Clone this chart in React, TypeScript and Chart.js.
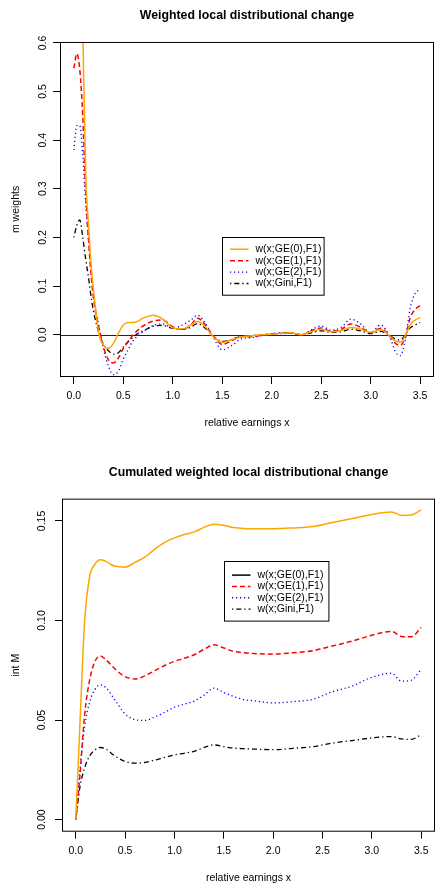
import React, { useEffect, useRef } from "react";
import { Chart, registerables } from "chart.js";

Chart.register(...registerables);

// ---------- Data: weighted local distributional change ----------
const xWeights = [0, 0.03, 0.06, 0.09, 0.12, 0.15, 0.18, 0.21, 0.25, 0.3, 0.35, 0.4, 0.45, 0.5, 0.55, 0.6, 0.65, 0.7, 0.8, 0.9, 1.0, 1.1, 1.18, 1.25, 1.33, 1.4, 1.5, 1.6, 1.7, 1.8, 1.9, 2.0, 2.1, 2.2, 2.3, 2.4, 2.5, 2.6, 2.7, 2.8, 2.9, 3.0, 3.1, 3.2, 3.25, 3.3, 3.35, 3.4, 3.45, 3.5];
const ge0Weights = [1.05, 1.0, 0.85, 0.63, 0.33, 0.22, 0.13, 0.07, 0.005, -0.022, -0.028, -0.018, 0.003, 0.02, 0.025, 0.025, 0.028, 0.034, 0.04, 0.032, 0.014, 0.012, 0.02, 0.027, 0.016, -0.002, -0.016, -0.01, -0.004, -0.002, 0.0, 0.001, 0.003, 0.004, 0.0, 0.006, 0.011, 0.006, 0.008, 0.015, 0.011, 0.005, 0.01, -0.004, -0.013, -0.015, -0.002, 0.02, 0.03, 0.035];
const ge1Weights = [0.548, 0.578, 0.545, 0.45, 0.29, 0.19, 0.11, 0.058, 0.018, -0.025, -0.052, -0.058, -0.048, -0.028, -0.014, 0.0, 0.01, 0.018, 0.028, 0.03, 0.016, 0.011, 0.02, 0.034, 0.02, 0.0, -0.02, -0.012, -0.004, -0.004, -0.001, 0.001, 0.003, 0.003, 0.0, 0.008, 0.014, 0.007, 0.011, 0.022, 0.015, 0.004, 0.013, -0.005, -0.018, -0.022, -0.005, 0.035, 0.052, 0.06];
const ge2Weights = [0.38, 0.43, 0.43, 0.37, 0.27, 0.19, 0.115, 0.065, 0.02, -0.03, -0.065, -0.082, -0.075, -0.05, -0.03, -0.012, -0.002, 0.006, 0.019, 0.022, 0.013, 0.02, 0.03, 0.04, 0.023, -0.002, -0.031, -0.022, -0.008, -0.006, -0.002, 0.001, 0.002, 0.003, 0.0, 0.01, 0.018, 0.009, 0.015, 0.032, 0.022, 0.004, 0.02, -0.008, -0.035, -0.043, -0.01, 0.055, 0.085, 0.093];
const giniWeights = [0.2, 0.225, 0.236, 0.2, 0.155, 0.115, 0.07, 0.037, 0.006, -0.02, -0.033, -0.04, -0.037, -0.025, -0.014, -0.005, 0.003, 0.008, 0.017, 0.019, 0.013, 0.011, 0.015, 0.023, 0.013, -0.001, -0.014, -0.009, -0.003, -0.002, 0.0, 0.002, 0.004, 0.003, 0.0, 0.004, 0.008, 0.005, 0.006, 0.011, 0.008, 0.002, 0.007, -0.003, -0.009, -0.011, 0.0, 0.014, 0.02, 0.025];

// ---------- Data: cumulated weighted local distributional change ----------
const xCum = [0, 0.04, 0.09, 0.14, 0.19, 0.25, 0.3, 0.4, 0.5, 0.6, 0.7, 0.8, 0.9, 1.0, 1.1, 1.2, 1.3, 1.4, 1.5, 1.6, 1.7, 1.8, 2.0, 2.2, 2.4, 2.6, 2.8, 3.0, 3.2, 3.3, 3.4, 3.5];
const ge0Cum = [0, 0.046, 0.1, 0.122, 0.128, 0.1305, 0.1298, 0.1272, 0.1268, 0.1292, 0.1318, 0.1358, 0.1392, 0.1415, 0.1432, 0.1445, 0.1468, 0.1484, 0.1478, 0.1467, 0.1462, 0.1461, 0.1461, 0.1465, 0.1472, 0.1492, 0.1512, 0.1533, 0.1545, 0.1528, 0.153, 0.1556];
const ge1Cum = [0, 0.021, 0.053, 0.07, 0.079, 0.0822, 0.0805, 0.0755, 0.0718, 0.0706, 0.0722, 0.0748, 0.0774, 0.0795, 0.081, 0.0828, 0.0855, 0.0878, 0.0862, 0.0845, 0.0838, 0.0834, 0.0831, 0.0838, 0.0848, 0.0872, 0.0896, 0.0926, 0.0945, 0.092, 0.0918, 0.0965];
const ge2Cum = [0, 0.024, 0.047, 0.059, 0.065, 0.0677, 0.0665, 0.0598, 0.053, 0.0502, 0.0498, 0.0515, 0.0538, 0.0565, 0.058, 0.0595, 0.0625, 0.066, 0.0638, 0.0618, 0.0603, 0.0597, 0.0586, 0.0592, 0.0604, 0.0642, 0.067, 0.0715, 0.0735, 0.0695, 0.07, 0.0755];
const giniCum = [0, 0.0158, 0.026, 0.032, 0.0348, 0.0362, 0.0355, 0.0318, 0.0292, 0.0283, 0.0287, 0.0298, 0.0312, 0.0325, 0.0333, 0.0343, 0.0362, 0.0375, 0.0366, 0.0359, 0.0356, 0.0354, 0.0351, 0.0358, 0.0366, 0.0384, 0.0397, 0.041, 0.0417, 0.0405, 0.0403, 0.0426];

const seriesLabels = ["w(x;GE(0),F1)", "w(x;GE(1),F1)", "w(x;GE(2),F1)", "w(x;Gini,F1)"];
const xAxisTitle = "relative earnings x";

const FONT = "'Liberation Sans', Arial, Helvetica, sans-serif";
const lineStyles = [
  { color: "#FFA500", dash: [] as number[], width: 1.5 },
  { color: "#FF0000", dash: [5, 3], width: 1.5 },
  { color: "#0000FF", dash: [1.2, 2.8], width: 1.3 },
  { color: "#000000", dash: [1.3, 3, 5, 3], width: 1.3 },
];

const rPlugin = {
  id: "rFrame",
  beforeDatasetsDraw(chart: any, _args: any, opts: any) {
    if (!opts || !opts.zeroLine) return;
    const { ctx, chartArea: a } = chart;
    const y = Math.round(chart.scales.y.getPixelForValue(0)) + 0.5;
    ctx.save();
    ctx.strokeStyle = "#222";
    ctx.lineWidth = 1;
    ctx.beginPath();
    ctx.moveTo(a.left, y);
    ctx.lineTo(a.right, y);
    ctx.stroke();
    ctx.restore();
  },
  afterDatasetsDraw(chart: any, _args: any, opts: any) {
    const { ctx, chartArea: a } = chart;
    ctx.save();
    const lg = opts && opts.legend;
    if (lg) {
      const lx = Math.round(chart.scales.x.getPixelForValue(lg.x)) + 0.5;
      const ly = Math.round(chart.scales.y.getPixelForValue(lg.y)) + 0.5;
      ctx.fillStyle = "#fff";
      ctx.fillRect(lx, ly, lg.w, lg.h);
      ctx.strokeStyle = "#000";
      ctx.lineWidth = 1;
      ctx.setLineDash([]);
      ctx.strokeRect(lx, ly, lg.w, lg.h);
      ctx.font = `10.5px ${FONT}`;
      ctx.textBaseline = "middle";
      ctx.textAlign = "left";
      seriesLabels.forEach((lab, i) => {
        const ry = ly + lg.rowStart + i * lg.rowGap;
        const st = lineStyles[i];
        ctx.strokeStyle = lg.colors[i];
        ctx.lineWidth = st.width;
        ctx.setLineDash(st.dash);
        ctx.beginPath();
        ctx.moveTo(lx + 7.5, ry);
        ctx.lineTo(lx + 26, ry);
        ctx.stroke();
        ctx.setLineDash([]);
        ctx.fillStyle = "#000";
        ctx.fillText(lab, lx + 33, ry);
      });
    }
    ctx.strokeStyle = "#000";
    ctx.lineWidth = 1;
    ctx.setLineDash([]);
    ctx.strokeRect(a.left + 0.5, a.top + 0.5, a.right - a.left - 1, a.bottom - a.top - 1);
    ctx.restore();
  },
};

type PlotProps = {
  x: number[];
  series: number[][];
  title: string;
  yTitle: string;
  yMin: number;
  yMax: number;
  yStep: number;
  yDigits: number;
  titleTop: number;
  titleBottom: number;
  xAxisHeight: number;
  xTitleBottom: number;
  yAxisWidth: number;
  rightPad: number;
  zeroLine: boolean;
  legend: any;
};

function Plot(p: PlotProps) {
  const ref = useRef<HTMLCanvasElement | null>(null);
  useEffect(() => {
    if (!ref.current) return;
    const tickFont = { family: FONT, size: 10.5 };
    const gridOpts = {
      display: true,
      drawOnChartArea: false,
      drawTicks: true,
      tickLength: 7,
      color: "#000",
      lineWidth: 1,
    };
    const chart = new Chart(ref.current, {
      type: "line",
      data: {
        datasets: p.series.map((s, i) => ({
          label: seriesLabels[i],
          data: p.x.map((xv, j) => ({ x: xv, y: s[j] })),
          borderColor: lineStyles[i].color,
          borderDash: lineStyles[i].dash,
          borderWidth: lineStyles[i].width,
          borderCapStyle: "butt",
          pointRadius: 0,
          fill: false,
          cubicInterpolationMode: "monotone",
        })),
      },
      options: {
        animation: false,
        responsive: false,
        events: [],
        layout: { padding: { left: 0, right: p.rightPad, top: 0, bottom: 0 } },
        plugins: {
          legend: { display: false },
          tooltip: { enabled: false },
          title: {
            display: true,
            fullSize: false,
            text: p.title,
            color: "#000",
            font: { family: FONT, size: 12.3, weight: "bold" },
            padding: { top: p.titleTop, bottom: p.titleBottom },
          },
          rFrame: { zeroLine: p.zeroLine, legend: p.legend },
        } as any,
        scales: {
          x: {
            type: "linear",
            min: -0.14,
            max: 3.64,
            ticks: {
              stepSize: 0.5,
              includeBounds: false,
              autoSkip: false,
              maxRotation: 0,
              minRotation: 0,
              padding: 6,
              color: "#000",
              font: tickFont,
              callback: (v: any) => Number(v).toFixed(1),
            },
            grid: gridOpts,
            border: { display: false },
            title: {
              display: true,
              text: xAxisTitle,
              color: "#000",
              font: tickFont,
              padding: { top: 0, bottom: p.xTitleBottom },
            },
            afterFit: (s: any) => {
              s.height = p.xAxisHeight;
            },
          },
          y: {
            type: "linear",
            min: p.yMin,
            max: p.yMax,
            ticks: {
              stepSize: p.yStep,
              includeBounds: false,
              autoSkip: false,
              minRotation: 90,
              maxRotation: 90,
              crossAlign: "center",
              padding: 3,
              color: "#000",
              font: tickFont,
              callback: (v: any) => Number(v).toFixed(p.yDigits),
            },
            grid: gridOpts,
            border: { display: false },
            title: {
              display: true,
              text: p.yTitle,
              color: "#000",
              font: tickFont,
              padding: { top: 9.4, bottom: 0 },
            },
            afterFit: (s: any) => {
              s.width = p.yAxisWidth;
            },
          },
        } as any,
      },
      plugins: [rPlugin as any],
    } as any);
    return () => chart.destroy();
  }, []);
  return <canvas ref={ref} width={435} height={444} style={{ display: "block" }} />;
}

export default function App() {
  useEffect(() => {
    document.body.style.margin = "0";
    document.body.style.background = "#fff";
  }, []);
  return (
    <div style={{ width: 435, height: 888, background: "#fff" }}>
      <Plot
        x={xWeights}
        series={[ge0Weights, ge1Weights, ge2Weights, giniWeights]}
        title="Weighted local distributional change"
        yTitle="m weights"
        yMin={-0.087}
        yMax={0.602}
        yStep={0.1}
        yDigits={1}
        titleTop={8.2}
        titleBottom={19.0}
        xAxisHeight={67}
        xTitleBottom={15}
        yAxisWidth={60}
        rightPad={1}
        zeroLine={true}
        legend={{ x: 1.5, y: 0.2, w: 101.6, h: 57.7, rowStart: 11.7, rowGap: 11.43, colors: ["#FFA500", "#FF0000", "#0000FF", "#000000"] }}
      />
      <Plot
        x={xCum}
        series={[ge0Cum, ge1Cum, ge2Cum, giniCum]}
        title="Cumulated weighted local distributional change"
        yTitle="int M"
        yMin={-0.0061}
        yMax={0.1612}
        yStep={0.05}
        yDigits={2}
        titleTop={21.3}
        titleBottom={18.6}
        xAxisHeight={56.3}
        xTitleBottom={3.7}
        yAxisWidth={62}
        rightPad={0}
        zeroLine={false}
        legend={{ x: 1.5, y: 0.13, w: 104.4, h: 59.6, rowStart: 13.6, rowGap: 11.33, colors: ["#000000", "#FF0000", "#0000FF", "#000000"] }}
      />
    </div>
  );
}
